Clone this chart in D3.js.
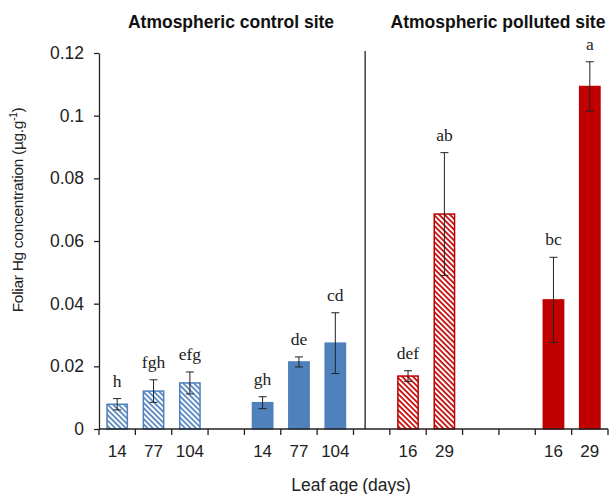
<!DOCTYPE html>
<html><head><meta charset="utf-8">
<script src="https://cdn.jsdelivr.net/npm/d3@7"></script>
<style>body{margin:0;background:#fff}</style></head>
<body><svg id="c" width="612" height="494"></svg>
<script>
// ---- data ----
const slots = ["c14a","c77a","c104a","gap1","c14b","c77b","c104b","gap2","p16a","p29a","gap3","gap4","p16b","p29b"];
const slotLabels = ["14","77","104","","14","77","104","","16","29","","","16","29"];
const barSlots = ["c14a","c77a","c104a","c14b","c77b","c104b","p16a","p29a","p16b","p29b"];
const barValues = [0.0079,0.0121,0.0147,0.0084,0.0214,0.0274,0.0169,0.0686,0.0412,0.1093];
const barErrors = [0.0018,0.0036,0.0035,0.0019,0.0016,0.0097,0.0017,0.0196,0.0136,0.0079];
const barLetters = ["h","fgh","efg","gh","de","cd","def","ab","bc","a"];
const barSite = ["control","control","control","control","control","control","polluted","polluted","polluted","polluted"];
const barHatched = [true,true,true,false,false,false,true,true,false,false];
const yTicks = [0,0.02,0.04,0.06,0.08,0.1,0.12];
const yTickLabels = ["0","0.02","0.04","0.06","0.08","0.1","0.12"];
const siteTitles = ["Atmospheric control site","Atmospheric polluted site"];

const colors = {control:"#4f81bd", polluted:"#c00000"};
const svg = d3.select("#c");
const mLeft = 99, mRight = 608, mTop = 53, mBottom = 429;
const sans = "Liberation Sans, Arial, sans-serif";

const x = d3.scaleBand().domain(slots).range([mLeft,mRight]).paddingInner(0.4).paddingOuter(0.2);
const xb = d3.scaleBand().domain(slots).range([mLeft,mRight]);
const y = d3.scaleLinear().domain([0,0.12]).range([mBottom,mTop]);

// patterns
const defs = svg.append("defs");
Object.entries(colors).forEach(([k,c])=>{
  const p = defs.append("pattern").attr("id","hatch-"+k).attr("patternUnits","userSpaceOnUse")
    .attr("width",3.8).attr("height",3.8).attr("patternTransform","rotate(45)");
  p.append("rect").attr("width",3.8).attr("height",3.8).attr("fill","#fff");
  p.append("rect").attr("x",0).attr("y",0).attr("width",3.8).attr("height",1.7).attr("fill",c);
});

// bars
const bars = barSlots.map((s,i)=>({s,v:barValues[i],e:barErrors[i],l:barLetters[i],site:barSite[i],h:barHatched[i]}));
svg.append("g").selectAll("rect").data(bars).join("rect")
  .attr("x",d=>x(d.s)+0.75).attr("width",x.bandwidth()-1.5)
  .attr("y",d=>y(d.v)).attr("height",d=>mBottom-y(d.v))
  .attr("fill",d=>d.h?`url(#hatch-${d.site})`:colors[d.site])
  .attr("stroke",d=>colors[d.site]).attr("stroke-width",1.5);

// error bars
const eg = svg.append("g").attr("stroke","#222").attr("stroke-width",1);
bars.forEach(d=>{
  const cx = x(d.s)+x.bandwidth()/2;
  eg.append("line").attr("x1",cx).attr("x2",cx).attr("y1",y(d.v+d.e)).attr("y2",y(d.v-d.e));
  [d.v+d.e,d.v-d.e].forEach(v=>eg.append("line").attr("x1",cx-4).attr("x2",cx+4).attr("y1",y(v)).attr("y2",y(v)));
});
// letters
svg.append("g").selectAll("text").data(bars).join("text")
  .attr("x",d=>x(d.s)+x.bandwidth()/2).attr("y",d=>y(d.v+d.e)-12)
  .attr("text-anchor","middle").attr("font-family","Liberation Serif, Times New Roman, serif")
  .attr("font-size",17.5).attr("fill","#222").text(d=>d.l);

// y axis
const ya = svg.append("g").attr("transform",`translate(${mLeft},0)`)
  .call(d3.axisLeft(y).tickValues(yTicks).tickFormat((d,i)=>yTickLabels[i]).tickSize(5).tickSizeOuter(0));
ya.selectAll("text").attr("font-family",sans).attr("font-size",17.5).attr("fill","#222").attr("dx",-7);
ya.select(".domain").attr("stroke","#222").attr("stroke-width",1.3);
ya.selectAll(".tick line").attr("stroke","#222").attr("stroke-width",1.3);

// x axis
svg.append("line").attr("x1",mLeft).attr("x2",mRight).attr("y1",mBottom).attr("y2",mBottom).attr("stroke","#222").attr("stroke-width",1.3);
const bounds = slots.map(s=>xb(s)).concat([mRight]);
svg.append("g").selectAll("line").data(bounds).join("line")
  .attr("x1",d=>d).attr("x2",d=>d).attr("y1",mBottom).attr("y2",mBottom+6).attr("stroke","#222").attr("stroke-width",1.3);
svg.append("g").selectAll("text").data(slots).join("text")
  .attr("x",d=>xb(d)+xb.bandwidth()/2).attr("y",457).attr("text-anchor","middle")
  .attr("font-family",sans).attr("font-size",17).attr("fill","#222")
  .text((d,i)=>slotLabels[i]);

// divider
const divX = xb("gap2")+xb.bandwidth()*0.32;
svg.append("line").attr("x1",divX).attr("x2",divX).attr("y1",51).attr("y2",mBottom).attr("stroke","#222").attr("stroke-width",1.3);

// titles
svg.append("text").attr("x",231).attr("y",28).attr("text-anchor","middle")
  .attr("font-family",sans).attr("font-weight","bold").attr("font-size",17.5).attr("fill","#111").text(siteTitles[0]);
svg.append("text").attr("x",498).attr("y",28).attr("text-anchor","middle")
  .attr("font-family",sans).attr("font-weight","bold").attr("font-size",17.5).attr("fill","#111").text(siteTitles[1]);

// axis titles
svg.append("text").attr("x",351).attr("y",491).attr("text-anchor","middle")
  .attr("font-family",sans).attr("font-size",17.5).attr("word-spacing",-1).attr("fill","#222").text("Leaf age (days)");
const yl = svg.append("text").attr("transform","translate(23,210) rotate(-90)").attr("text-anchor","middle")
  .attr("font-family",sans).attr("font-size",15.5).attr("letter-spacing",-0.3).attr("fill","#222");
yl.append("tspan").text("Foliar Hg concentration (µg.g");
yl.append("tspan").attr("font-size",10).attr("dy",-6).text("-1");
yl.append("tspan").attr("dy",6).text(")");
</script></body></html>
